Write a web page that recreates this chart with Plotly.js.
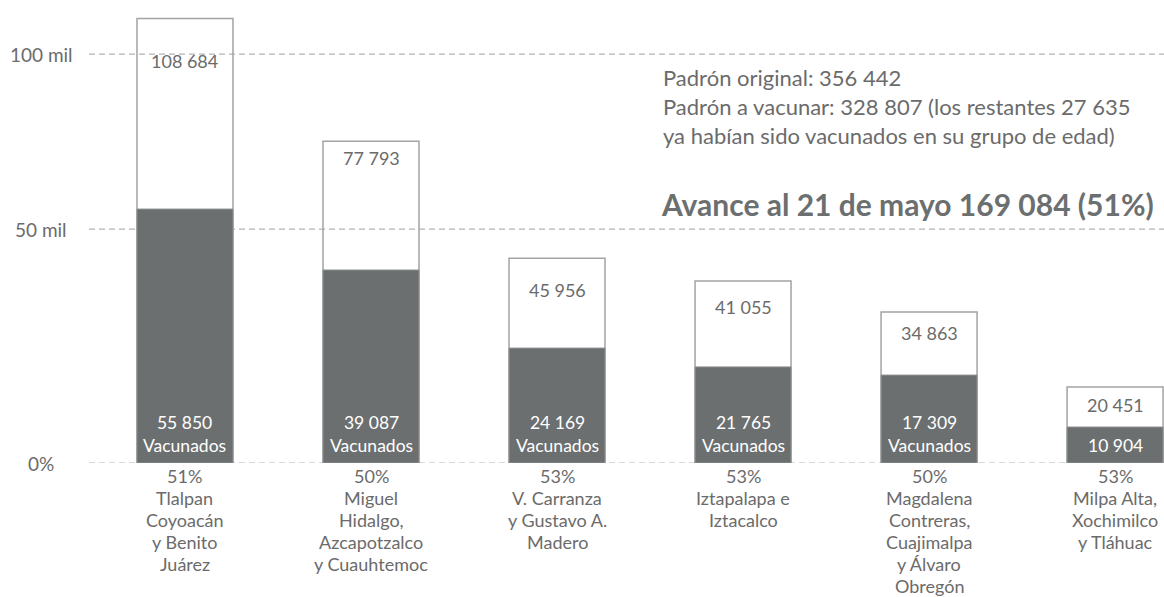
<!DOCTYPE html>
<html>
<head>
<meta charset="utf-8">
<script src="https://cdn.plot.ly/plotly-3.0.1.min.js"></script>
<style>
  html, body { margin: 0; padding: 0; background: #ffffff; }
  #chart { width: 1164px; height: 597px; }
</style>
</head>
<body>
<div id="chart"></div>
<script>
// ---- data ----
const categories = [
  "Tlalpan<br>Coyoacán<br>y Benito<br>Juárez",
  "Miguel<br>Hidalgo,<br>Azcapotzalco<br>y Cuauhtemoc",
  "V. Carranza<br>y Gustavo A.<br>Madero",
  "Iztapalapa e<br>Iztacalco",
  "Magdalena<br>Contreras,<br>Cuajimalpa<br>y Álvaro<br>Obregón",
  "Milpa Alta,<br>Xochimilco<br>y Tláhuac"
];
const porcentaje = ["51%", "50%", "53%", "53%", "50%", "53%"];
const padron = [108684, 77793, 45956, 41055, 34863, 20451];
const vacunados = [55850, 39087, 24169, 21765, 17309, 10904];
// bar heights as drawn in the picture (the original is not strictly to scale)
const padronBar = [108700, 78700, 50100, 44500, 36900, 18600];
const vacunadosBar = [62100, 47200, 28100, 23500, 21500, 8800];
const yTickVals = [0, 57200, 100000];
const yTickText = ["0%", "50 mil", "100 mil"];
const infoLines = [
  "Padrón original: 356 442",
  "Padrón a vacunar: 328 807 (los restantes 27 635",
  "ya habían sido vacunados en su grupo de edad)"
];
const avance = "Avance al 21 de mayo 169 084 (51%)";

// ---- helpers ----
const fmt = n => n.toString().replace(/\B(?=(\d{3})+(?!\d))/g, " ");
const xs = categories.map((_, i) => i);
const FONT = "Lato, 'Open Sans', sans-serif";
const GRAY = "#6b6b6b";
const DARK = "#6c6f70";
const OUT = "#a3a3a3";

// plot area in pixels
const M = { l: 89, r: 0, t: 5, b: 134 };
const plotH = 597 - M.t - M.b;
const pyPx = px => (597 - M.b - px) / plotH;   // pixel row -> paper y
const pxX = px => (px - M.l) / (1164 - M.l - M.r);

const traces = [
  {
    type: "bar", x: xs, y: padronBar, width: 0.516,
    marker: { color: "rgba(255,255,255,0)", line: { color: OUT, width: 1.5 } },
    hoverinfo: "skip", showlegend: false
  },
  {
    type: "bar", x: xs, y: vacunadosBar, width: 0.516,
    marker: { color: DARK, line: { color: "#8e9091", width: 1 } },
    hoverinfo: "skip", showlegend: false
  }
];

const shapes = yTickVals.map(v => ({
  type: "line", xref: "paper", x0: 0, x1: 1, yref: "y", y0: v, y1: v,
  line: { color: "#b4b4b4", width: 1.2, dash: "6px,4px" }, layer: "below"
}));

const annotations = [];
// y tick labels
yTickVals.forEach((v, i) => annotations.push({
  xref: "paper", x: pxX(41), yref: "y", y: v, xanchor: "center", yanchor: "middle",
  text: yTickText[i], showarrow: false, font: { family: FONT, size: 19, color: GRAY }
}));
// total labels (offset of label centre below the bar top, px)
const totalLabelDrop = [43, 17, 32, 26, 21, 18];
xs.forEach(i => annotations.push({
  x: i, y: padronBar[i], xanchor: "center", yanchor: "middle", yshift: -totalLabelDrop[i],
  text: fmt(padron[i]), showarrow: false, font: { family: FONT, size: 18, color: GRAY }
}));
// vaccinated labels
xs.forEach(i => annotations.push({
  x: i, y: 0, xanchor: "center", yanchor: "bottom", yshift: 5,
  text: vacunadosBar[i] > 15000 ? fmt(vacunados[i]) + "<br>Vacunados" : fmt(vacunados[i]),
  showarrow: false, font: { family: FONT, size: 17.5, color: "#ffffff" }
}));
// category labels with percentage, one annotation per line
xs.forEach(i => {
  const lines = [porcentaje[i]].concat(categories[i].split("<br>"));
  lines.forEach((t, k) => annotations.push({
    x: i, y: 0, xanchor: "center", yanchor: "middle", yshift: -(13 + k * 22),
    text: t, showarrow: false, borderpad: 0, font: { family: FONT, size: 18, color: GRAY }
  }));
});
// info text
const infoRows = [78, 106, 135];
infoLines.forEach((t, i) => annotations.push({
  xref: "paper", x: pxX(661), yref: "paper", y: pyPx(infoRows[i]),
  xanchor: "left", yanchor: "middle", text: t, showarrow: false,
  font: { family: FONT, size: 22, color: GRAY }
}));
annotations.push({
  xref: "paper", x: pxX(659), yref: "paper", y: pyPx(204),
  xanchor: "left", yanchor: "middle", text: "<b>" + avance + "</b>", showarrow: false,
  font: { family: FONT, size: 30, color: DARK }
});

const layout = {
  width: 1164, height: 597,
  margin: M,
  paper_bgcolor: "#ffffff", plot_bgcolor: "#ffffff",
  barmode: "overlay",
  xaxis: { range: [-0.516, 5.263], visible: false, fixedrange: true },
  yaxis: { range: [0, 112000], visible: false, fixedrange: true },
  shapes: shapes,
  annotations: annotations,
  showlegend: false
};

Plotly.newPlot("chart", traces, layout, { displayModeBar: false, staticPlot: true });
</script>
</body>
</html>
